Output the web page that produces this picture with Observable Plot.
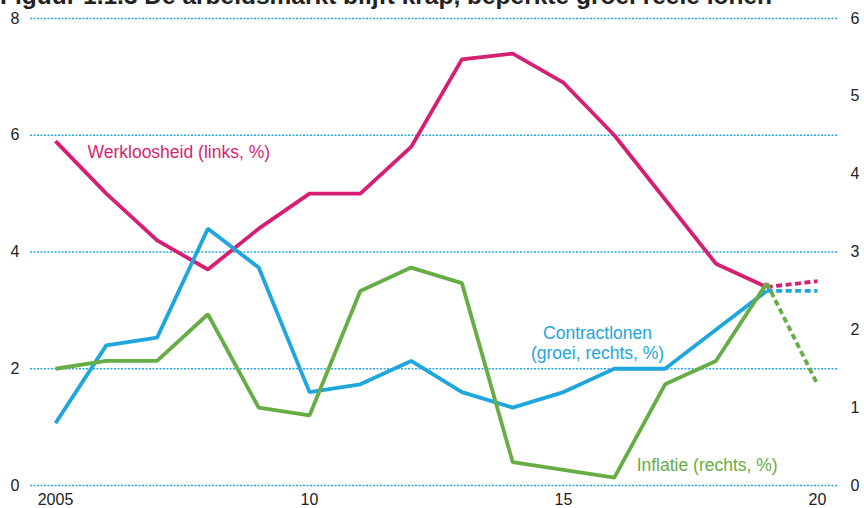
<!DOCTYPE html>
<html>
<head>
<meta charset="utf-8">
<script src="https://cdn.jsdelivr.net/npm/d3@7"></script>
<script src="https://cdn.jsdelivr.net/npm/@observablehq/plot@0.6"></script>
<style>
  html, body { margin: 0; padding: 0; background: #fff; overflow: hidden; }
  #wrap { position: relative; width: 864px; height: 508px; }
  #title { position: absolute; left: 0; top: -18px; font: bold 24.5px "Liberation Sans", Arial, sans-serif; color: #222; white-space: nowrap; z-index: 2; }
  #chart { position: absolute; left: 0; top: 0; }
  svg { font-family: "Liberation Sans", Arial, sans-serif; }
</style>
</head>
<body>
<div id="wrap">
  <div id="chart"></div>
  <div id="title">Figuur 1.1.3 De arbeidsmarkt blijft krap, beperkte groei reële lonen</div>
</div>
<script>
const years = [2005, 2006, 2007, 2008, 2009, 2010, 2011, 2012, 2013, 2014, 2015, 2016, 2017, 2018, 2019, 2020];
const werkloosheid = [5.9, 5.0, 4.2, 3.7, 4.4, 5.0, 5.0, 5.8, 7.3, 7.4, 6.9, 6.0, 4.9, 3.8, 3.4, 3.5];
const contractlonen = [0.8, 1.8, 1.9, 3.3, 2.8, 1.2, 1.3, 1.6, 1.2, 1.0, 1.2, 1.5, 1.5, 2.0, 2.5, 2.5];
const inflatie = [1.5, 1.6, 1.6, 2.2, 1.0, 0.9, 2.5, 2.8, 2.6, 0.3, 0.2, 0.1, 1.3, 1.6, 2.6, 1.3];
const lastActualYear = 2019;
const leftTicks = [0, 2, 4, 6, 8];
const rightTicks = [0, 1, 2, 3, 4, 5, 6];
const xTicks = [2005, 2010, 2015, 2020];
const xTickLabels = ["2005", "10", "15", "20"];

const leftMax = 8, rightMax = 6;
const toLeft = v => v * leftMax / rightMax;

const pink = "#d61f72", blue = "#1ea6dd", green = "#67ad45", grid = "#2aa8e0";

function series(name, vals, right, color) {
  return years.map((y, i) => ({name, year: y, value: right ? toLeft(vals[i]) : vals[i], color}));
}
const all = [
  ...series("Werkloosheid", werkloosheid, false, pink),
  ...series("Contractlonen", contractlonen, true, blue),
  ...series("Inflatie", inflatie, true, green)
];
const solid = all.filter(d => d.year <= lastActualYear);
const dashed = all.filter(d => d.year >= lastActualYear);

const chart = Plot.plot({
  width: 864,
  height: 508,
  marginLeft: 30,
  marginRight: 26,
  marginTop: 18,
  marginBottom: 23,
  x: {domain: [2005, 2020], range: [55, 817]},
  y: {domain: [0, leftMax], range: [485, 18]},
  style: {fontSize: "16px", color: "#222", background: "white"},
  marks: [
    Plot.ruleY(leftTicks, {stroke: grid, strokeWidth: 1.5, strokeDasharray: "2,1.5"}),
    Plot.axisY(leftTicks, {anchor: "left", tickSize: 0, tickPadding: 11, label: null, fontSize: 16, tickFormat: d => String(d)}),
    Plot.axisY(rightTicks.map(toLeft), {anchor: "right", tickSize: 0, tickPadding: 12, label: null, fontSize: 16, tickFormat: d => String(Math.round(d * rightMax / leftMax))}),
    Plot.axisX(xTicks, {anchor: "bottom", tickSize: 0, tickPadding: 8, label: null, fontSize: 16, tickFormat: d => xTickLabels[xTicks.indexOf(d)]}),
    Plot.line(solid, {x: "year", y: "value", z: "name", stroke: "color", strokeWidth: 3.8, strokeLinejoin: "miter", strokeLinecap: "butt"}),
    Plot.line(dashed, {x: "year", y: "value", z: "name", stroke: "color", strokeWidth: 3.8, strokeDasharray: "6,3.5", strokeLinecap: "butt"}),
    Plot.text(["Werkloosheid (links, %)"], {x: 2005.63, y: 5.7, text: d => d, textAnchor: "start", fill: pink, fontSize: 17.5}),
    Plot.text(["Contractlonen", "(groei, rechts, %)"], {x: 2015.67, y: (d, i) => i === 0 ? 2.6 : 2.26, text: d => d, textAnchor: "middle", fill: blue, fontSize: 17.5}),
    Plot.text(["Inflatie (rechts, %)"], {x: 2016.44, y: 0.34, text: d => d, textAnchor: "start", fill: green, fontSize: 17.5})
  ]
});
document.getElementById("chart").appendChild(chart);
</script>
</body>
</html>
